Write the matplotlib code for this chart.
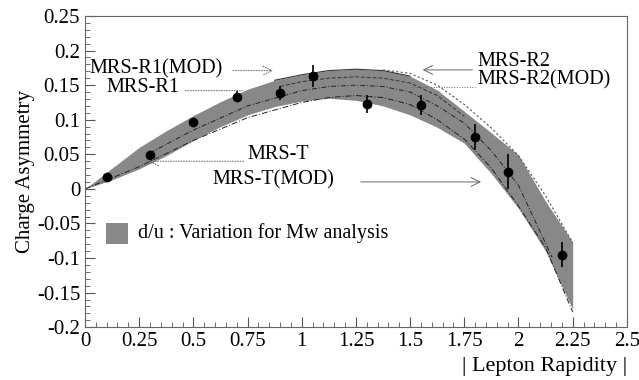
import matplotlib.pyplot as plt
from matplotlib.patches import Rectangle

plt.rcParams['font.family'] = ['Liberation Serif', 'DejaVu Serif']

# measured W charge asymmetry
rap = [0.1, 0.3, 0.5, 0.7, 0.9, 1.05, 1.3, 1.55, 1.8, 1.95, 2.2]
asym = [0.017, 0.049, 0.097, 0.133, 0.139, 0.163, 0.122, 0.121, 0.075, 0.025, -0.095]
asym_err = [0.005, 0.005, 0.006, 0.008, 0.010, 0.016, 0.013, 0.014, 0.019, 0.025, 0.018]

# d/u variation band
band_x = [0, 0.125, 0.25, 0.375, 0.5, 0.625, 0.75, 0.875, 1.0, 1.125, 1.25,
          1.375, 1.5, 1.625, 1.75, 1.875, 2.0, 2.125, 2.25]
band_hi = [0, 0.030, 0.060, 0.084, 0.106, 0.126, 0.144, 0.157, 0.165, 0.171, 0.173,
           0.171, 0.163, 0.143, 0.112, 0.081, 0.049, -0.018, -0.077]
band_lo = [0, 0.013, 0.029, 0.048, 0.070, 0.090, 0.107, 0.119, 0.127, 0.131, 0.128,
           0.120, 0.107, 0.089, 0.066, 0.022, -0.028, -0.090, -0.174]

# model curves inside / around the band
r2_x = [1.375, 1.5, 1.625, 1.75, 1.875, 2.0, 2.125, 2.25]
r2_y = [0.172, 0.167, 0.150, 0.122, 0.088, 0.048, -0.010, -0.078]
r2mod_x = [0.9, 1.0, 1.125, 1.25, 1.375, 1.5, 1.625, 1.75]
r2mod_y = [0.148, 0.155, 0.160, 0.162, 0.160, 0.153, 0.135, 0.105]
r1_x = [0.3, 0.5, 0.75, 1.0, 1.125, 1.25, 1.375, 1.5, 1.625, 1.75, 1.875, 2.0, 2.155]
r1_y = [0.052, 0.085, 0.120, 0.142, 0.148, 0.150, 0.148, 0.140, 0.120, 0.095, 0.055, 0.005, -0.099]
t_x = [0, 0.25, 0.5, 0.75, 1.0, 1.125, 1.25, 1.375, 1.5, 1.625, 1.75, 1.875, 2.0, 2.125, 2.25]
t_y = [0, 0.032, 0.070, 0.103, 0.125, 0.132, 0.135, 0.132, 0.122, 0.100, 0.072, 0.030, -0.025, -0.085, -0.178]

fig = plt.figure(figsize=(6.39, 3.80), dpi=100)
ax = fig.add_axes([0.133, 0.139, 0.848, 0.819])

ax.fill_between(band_x, band_lo, band_hi, color='#888888', lw=0)
ax.plot(band_x[7:13], band_hi[7:13], color='#333333', lw=0.8)
ax.plot(r2_x, r2_y, color='#555555', lw=0.8, ls=(0, (2, 2)))
ax.plot(r2mod_x, r2mod_y, color='#333333', lw=0.7, ls=(0, (4, 2)))
ax.plot(r1_x, r1_y, color='#222222', lw=0.7, ls=(0, (5, 2, 1, 2)))
ax.plot(t_x, t_y, color='#222222', lw=0.7, ls=(0, (6, 2, 1, 2)))

ax.errorbar(rap, asym, yerr=asym_err, fmt='o', color='black', ms=6, elinewidth=1.2, capsize=0)

# labels with pointers
fs = 14.5
arrow = dict(arrowstyle='->', color='#666666', lw=0.7, mutation_scale=16)
ax.text(0.02, 0.173, 'MRS-R1(MOD)', fontsize=fs, va='center')
ax.annotate('', xy=(0.88, 0.171), xytext=(0.67, 0.171),
            arrowprops=dict(arrow, linestyle=':'))
ax.text(0.10, 0.146, 'MRS-R1', fontsize=fs, va='center')
ax.annotate('', xy=(0.74, 0.142), xytext=(0.45, 0.142),
            arrowprops=dict(arrowstyle='-', color='#666666', lw=0.7, linestyle=':'))
ax.text(0.75, 0.050, 'MRS-T', fontsize=fs, va='center')
ax.annotate('', xy=(0.28, 0.040), xytext=(0.745, 0.040),
            arrowprops=dict(arrow, linestyle=':'))
ax.text(0.59, 0.013, 'MRS-T(MOD)', fontsize=fs, va='center')
ax.annotate('', xy=(1.84, 0.010), xytext=(1.26, 0.010), arrowprops=arrow)
ax.text(1.81, 0.184, 'MRS-R2', fontsize=fs, va='center')
ax.annotate('', xy=(1.545, 0.172), xytext=(1.80, 0.172), arrowprops=arrow)
ax.text(1.81, 0.158, 'MRS-R2(MOD)', fontsize=fs, va='center')
ax.plot([1.5, 1.8], [0.148, 0.148], color='#666666', lw=0.7, ls=':')

# legend box
ax.add_patch(Rectangle((0.097, -0.080), 0.102, 0.030, color='#888888', lw=0))
ax.text(0.245, -0.064, 'd/u : Variation for Mw analysis', fontsize=fs, va='center')

ax.set_xlim(0, 2.5)
ax.set_ylim(-0.2, 0.25)
ax.set_xticks([0, 0.25, 0.5, 0.75, 1, 1.25, 1.5, 1.75, 2, 2.25, 2.5])
ax.set_xticklabels(['0', '0.25', '0.5', '0.75', '1', '1.25', '1.5', '1.75', '2', '2.25', '2.5'])
ax.set_yticks([-0.2, -0.15, -0.1, -0.05, 0, 0.05, 0.1, 0.15, 0.2, 0.25])
ax.set_yticklabels(['-0.2', '-0.15', '-0.1', '-0.05', '0', '0.05', '0.1', '0.15', '0.2', '0.25'])
ax.set_xticks([i * 0.05 for i in range(51)], minor=True)
ax.set_yticks([-0.2 + i * 0.01 for i in range(46)], minor=True)
ax.tick_params(which='both', direction='in', top=False, right=False,
               labelsize=15, color='#555555')
ax.tick_params(which='major', length=7)
ax.tick_params(which='minor', length=3.5)
for s in ax.spines.values():
    s.set_color('#666666')

ax.set_ylabel('Charge Asymmetry', fontsize=15, labelpad=1)
ax.set_xlabel('| Lepton Rapidity |', fontsize=16, loc='right', labelpad=4)

fig.savefig('out.png', dpi=100)
